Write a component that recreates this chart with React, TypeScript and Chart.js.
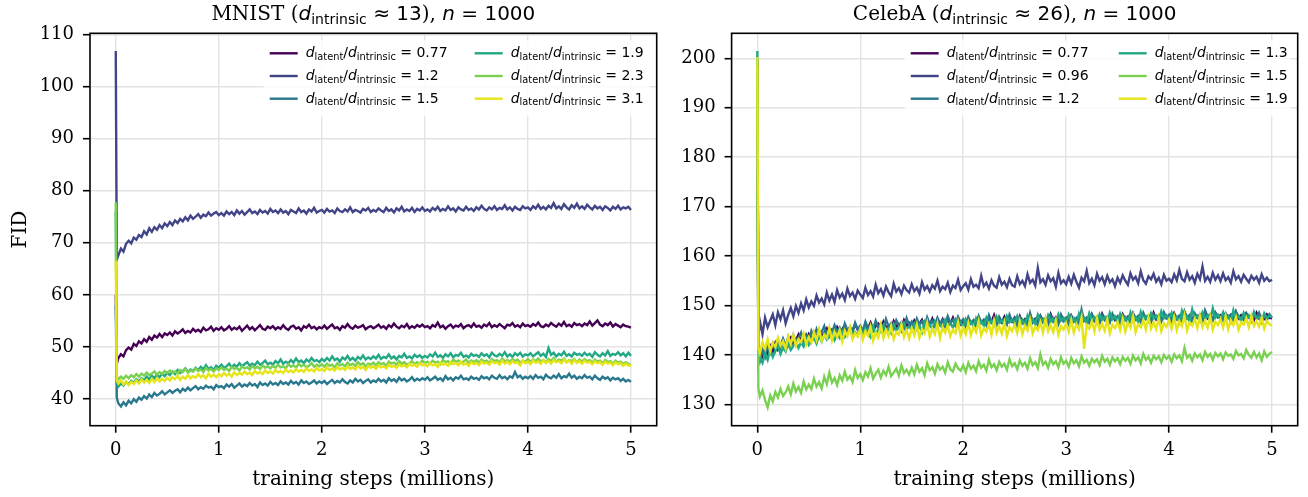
import React, { useEffect, useRef } from "react";
import { Chart, registerables } from "chart.js";

Chart.register(...registerables);

// training steps (millions)
const steps = [
  0, 0.01,
  0.025, 0.05, 0.075, 0.1, 0.125, 0.15, 0.175, 0.2, 0.225, 0.25, 0.275, 0.3, 0.325, 0.35, 0.375, 0.4, 0.425, 0.45, 0.475, 0.5,
  0.525, 0.55, 0.575, 0.6, 0.625, 0.65, 0.675, 0.7, 0.725, 0.75, 0.775, 0.8, 0.825, 0.85, 0.875, 0.9, 0.925, 0.95, 0.975, 1.0,
  1.025, 1.05, 1.075, 1.1, 1.125, 1.15, 1.175, 1.2, 1.225, 1.25, 1.275, 1.3, 1.325, 1.35, 1.375, 1.4, 1.425, 1.45, 1.475, 1.5,
  1.525, 1.55, 1.575, 1.6, 1.625, 1.65, 1.675, 1.7, 1.725, 1.75, 1.775, 1.8, 1.825, 1.85, 1.875, 1.9, 1.925, 1.95, 1.975, 2.0,
  2.025, 2.05, 2.075, 2.1, 2.125, 2.15, 2.175, 2.2, 2.225, 2.25, 2.275, 2.3, 2.325, 2.35, 2.375, 2.4, 2.425, 2.45, 2.475, 2.5,
  2.525, 2.55, 2.575, 2.6, 2.625, 2.65, 2.675, 2.7, 2.725, 2.75, 2.775, 2.8, 2.825, 2.85, 2.875, 2.9, 2.925, 2.95, 2.975, 3.0,
  3.025, 3.05, 3.075, 3.1, 3.125, 3.15, 3.175, 3.2, 3.225, 3.25, 3.275, 3.3, 3.325, 3.35, 3.375, 3.4, 3.425, 3.45, 3.475, 3.5,
  3.525, 3.55, 3.575, 3.6, 3.625, 3.65, 3.675, 3.7, 3.725, 3.75, 3.775, 3.8, 3.825, 3.85, 3.875, 3.9, 3.925, 3.95, 3.975, 4.0,
  4.025, 4.05, 4.075, 4.1, 4.125, 4.15, 4.175, 4.2, 4.225, 4.25, 4.275, 4.3, 4.325, 4.35, 4.375, 4.4, 4.425, 4.45, 4.475, 4.5,
  4.525, 4.55, 4.575, 4.6, 4.625, 4.65, 4.675, 4.7, 4.725, 4.75, 4.775, 4.8, 4.825, 4.85, 4.875, 4.9, 4.925, 4.95, 4.975, 5.0,
];

const xTicks = [0, 1, 2, 3, 4, 5];
const mnistYTicks = [40, 50, 60, 70, 80, 90, 100, 110];
const celebaYTicks = [130, 140, 150, 160, 170, 180, 190, 200];

const mnistRatios = ["0.77", "1.2", "1.5", "1.9", "2.3", "3.1"];
const celebaRatios = ["0.77", "0.96", "1.2", "1.3", "1.5", "1.9"];

// MNIST FID curves
const mnist077 = [
  60.0, 46.8,
  47.9, 48.6, 48.2, 49.4, 49.9, 49.5, 50.6, 50.2, 51.1, 50.7, 51.5, 51.0, 51.9, 51.4, 52.2, 51.8, 52.5, 51.9, 52.6, 52.3,
  52.8, 52.2, 53.0, 52.6, 52.9, 53.4, 52.7, 53.1, 52.8, 53.5, 53.0, 53.3, 52.9, 53.7, 53.2, 53.4, 53.9, 53.1, 53.6, 53.3,
  53.8, 53.2, 53.5, 54.0, 53.3, 53.7, 53.4, 53.9, 53.1, 53.6, 54.1, 53.4, 53.8, 53.2, 53.7, 54.2, 53.5, 53.3, 53.9, 53.6,
  54.0, 53.4, 53.8, 53.5, 54.2, 53.6, 53.3, 53.9, 54.1, 53.5, 53.8, 53.2, 54.0, 53.7, 54.3, 53.6, 53.9, 53.4, 53.8, 53.6,
  54.1, 53.5, 53.9, 54.3, 53.6, 53.8, 53.3, 54.0, 53.7, 54.4, 53.8, 53.5, 54.1, 53.7, 53.9, 54.2, 53.4, 53.8, 54.0, 53.6,
  53.9, 54.3, 53.7, 54.0, 53.5, 54.2, 53.8, 54.5, 53.9, 53.6, 54.1, 53.8, 54.4, 53.6, 54.0, 53.7, 54.2, 53.9, 54.3, 53.8,
  54.0, 53.6, 54.2, 53.9, 54.7, 53.8, 54.1, 53.5, 54.0, 54.3, 53.7, 54.1, 53.9, 54.4, 53.6, 54.0, 54.2, 53.8, 54.5, 53.9,
  54.1, 53.7, 54.3, 54.0, 54.6, 53.8, 54.2, 53.9, 54.4, 54.0, 53.6, 54.3, 54.1, 54.6, 53.9, 54.2, 53.8, 54.5, 54.0, 54.2,
  53.9, 54.4, 54.1, 54.7, 54.0, 53.8, 54.3, 54.0, 54.6, 54.2, 53.9, 54.5, 54.1, 54.8, 54.0, 54.3, 53.9, 54.6, 54.2, 54.4,
  54.0, 54.5, 54.2, 54.9, 54.1, 54.6, 55.1, 54.3, 54.0, 54.5, 54.2, 54.7, 53.9, 54.4, 54.1, 53.8, 54.3, 54.0, 53.9, 53.7,
];
const mnist12 = [
  106.8, 66.8,
  67.6, 68.9, 68.3, 69.8, 70.4, 69.9, 71.0, 70.6, 71.5, 71.1, 72.2, 71.6, 72.8, 72.1, 73.0, 72.5, 73.4, 72.8, 73.7, 73.2,
  74.0, 73.4, 74.3, 73.8, 74.6, 74.1, 74.9, 74.3, 75.2, 74.6, 75.0, 75.5, 74.8, 75.4, 75.1, 75.8, 75.2, 75.6, 75.9, 75.3,
  75.7, 75.2, 76.0, 75.5, 75.9, 75.3, 76.2, 75.6, 76.1, 75.4, 75.9, 76.4, 75.7, 76.0, 75.5, 76.3, 75.8, 76.1, 75.6, 76.5,
  75.9, 76.2, 75.7, 76.4, 75.8, 76.1, 75.5, 76.3, 76.0, 75.7, 76.6, 75.9, 76.2, 75.6, 76.4, 76.0, 76.7, 75.8, 76.1, 76.3,
  75.8, 76.5, 76.0, 76.2, 75.7, 76.6, 76.1, 75.9, 76.4, 76.0, 76.8, 75.9, 76.3, 76.1, 75.8, 76.5, 76.2, 76.7, 75.9, 76.3,
  76.0, 76.6, 76.2, 75.9, 76.7, 76.1, 76.4, 75.8, 76.6, 76.2, 76.9, 76.0, 76.4, 76.1, 76.7, 75.9, 76.5, 76.2, 76.8, 76.1,
  76.4, 76.0, 76.7, 76.3, 76.9, 76.1, 76.5, 76.2, 77.0, 76.3, 76.6, 76.0, 76.8, 76.4, 76.2, 76.9, 76.3, 76.6, 76.1, 76.8,
  76.4, 77.1, 76.5, 76.2, 76.8, 76.4, 77.0, 76.3, 76.7, 76.5, 77.2, 76.4, 76.8, 76.2, 76.9, 76.5, 76.3, 77.0, 76.6, 76.8,
  76.3, 77.0, 76.6, 77.3, 76.5, 76.9, 76.4, 77.1, 76.7, 77.6, 76.6, 77.0, 76.5, 77.4, 76.8, 76.4, 77.2, 76.7, 77.5, 76.6,
  77.0, 76.5, 77.3, 76.8, 76.4, 77.1, 76.6, 76.9, 76.3, 77.0, 76.7, 76.2, 76.9, 76.5, 77.1, 76.4, 76.8, 76.6, 76.9, 76.3,
];
const mnist15 = [
  58.0, 40.3,
  39.2, 38.6, 39.4, 38.8, 39.7, 39.2, 40.0, 39.5, 40.3, 39.9, 40.6, 40.1, 40.9, 40.4, 41.2, 40.7, 41.0, 41.5, 40.9, 41.3,
  41.7, 41.2, 41.6, 41.9, 41.3, 42.0, 41.6, 42.2, 41.7, 42.1, 42.5, 41.9, 42.3, 42.0, 42.6, 42.2, 42.4, 41.9, 42.7, 42.3,
  42.5, 42.1, 42.8, 42.4, 42.9, 42.2, 42.6, 43.0, 42.4, 42.8, 42.5, 43.1, 42.6, 42.9, 42.3, 43.2, 42.7, 43.0, 42.6, 43.3,
  42.8, 43.1, 42.7, 43.4, 42.9, 43.2, 42.8, 43.5, 43.0, 43.3, 42.8, 43.6, 43.1, 43.4, 42.9, 43.2, 43.6, 43.0, 43.4, 43.1,
  43.5, 42.9, 43.3, 43.7, 43.1, 43.5, 43.2, 43.8, 43.3, 43.0, 43.6, 43.2, 43.9, 43.4, 43.7, 43.1, 43.5, 43.8, 43.2, 43.6,
  43.3, 43.9, 43.4, 43.7, 43.2, 44.0, 43.5, 43.8, 43.3, 44.1, 43.6, 43.9, 43.4, 43.7, 44.2, 43.5, 43.9, 43.6, 44.0, 43.7,
  44.2, 43.6, 43.9, 44.3, 43.7, 44.0, 43.5, 44.4, 43.8, 44.1, 43.6, 44.2, 43.9, 44.5, 43.8, 44.0, 43.7, 44.3, 43.9, 44.1,
  43.7, 44.4, 44.0, 44.2, 43.8, 44.5, 44.1, 43.9, 44.6, 44.0, 44.3, 43.8, 44.4, 44.1, 45.2, 44.2, 44.5, 43.9, 44.3, 44.0,
  44.4, 43.9, 44.6, 44.1, 44.3, 43.8, 44.7, 44.2, 44.0, 44.5, 44.1, 44.8, 44.0, 44.4, 44.2, 44.9, 44.1, 44.5, 43.9, 44.3,
  44.0, 44.6, 44.1, 44.3, 43.8, 44.5, 44.0, 43.7, 44.3, 43.9, 44.2, 43.6, 44.1, 43.8, 44.0, 43.5, 43.9, 43.4, 43.7, 43.3,
];
const mnist19 = [
  76.0, 43.3,
  42.4, 43.0, 42.6, 43.3, 42.9, 43.5, 43.1, 43.8, 43.4, 44.0, 43.6, 44.3, 43.8, 44.5, 44.0, 44.7, 44.2, 44.9, 44.4, 45.1,
  44.6, 45.3, 44.8, 45.6, 45.0, 45.4, 45.9, 45.2, 45.7, 45.4, 46.0, 45.5, 46.2, 45.7, 46.5, 45.8, 46.1, 45.6, 46.4, 46.0,
  46.6, 46.0, 46.3, 46.8, 46.1, 46.6, 46.2, 46.9, 46.3, 46.7, 47.1, 46.4, 46.8, 46.5, 47.2, 46.6, 46.9, 47.4, 46.7, 47.0,
  46.6, 47.3, 46.9, 47.6, 46.8, 47.2, 46.9, 47.5, 47.0, 47.8, 47.1, 47.4, 46.9, 47.6, 47.2, 47.9, 47.3, 47.5, 47.1, 47.7,
  47.3, 47.9, 47.4, 48.2, 47.5, 47.8, 47.2, 48.0, 47.6, 48.3, 47.5, 47.9, 47.4, 48.1, 47.7, 48.4, 47.6, 48.0, 47.7, 48.2,
  47.8, 48.5, 47.7, 48.1, 47.9, 48.6, 47.8, 48.2, 47.6, 48.3, 48.0, 48.7, 47.9, 48.2, 47.8, 48.5, 48.1, 48.4, 47.9, 48.3,
  48.0, 48.6, 48.2, 48.9, 48.1, 48.4, 47.9, 48.6, 48.2, 48.8, 48.0, 48.5, 48.3, 48.9, 48.1, 48.4, 48.0, 48.7, 48.3, 48.5,
  48.1, 48.8, 48.3, 48.6, 48.0, 48.9, 48.4, 48.2, 48.7, 48.3, 49.0, 48.2, 48.6, 48.1, 48.8, 48.4, 48.9, 48.2, 48.6, 48.4,
  48.8, 48.2, 48.6, 49.0, 48.3, 48.7, 48.1, 49.8, 48.5, 48.9, 48.2, 48.7, 48.4, 49.1, 48.3, 48.6, 48.2, 48.9, 48.5, 48.7,
  48.3, 48.9, 48.4, 48.7, 48.1, 49.0, 48.5, 48.2, 48.8, 48.4, 49.2, 48.3, 48.7, 48.5, 49.0, 48.4, 48.8, 48.2, 48.9, 48.3,
];
const mnist23 = [
  77.8, 44.4,
  43.8, 44.3, 43.9, 44.5, 44.0, 44.6, 44.2, 44.8, 44.3, 44.9, 44.5, 45.1, 44.6, 44.9, 45.3, 44.7, 45.2, 44.8, 45.4, 45.0,
  45.5, 45.0, 45.3, 44.9, 45.6, 45.2, 45.8, 45.1, 45.5, 45.3, 45.9, 45.4, 45.7, 45.2, 46.0, 45.5, 45.8, 45.3, 45.9, 45.6,
  46.1, 45.6, 45.9, 45.4, 46.2, 45.8, 46.0, 45.5, 46.3, 45.9, 46.1, 45.7, 46.4, 45.9, 46.2, 45.8, 46.5, 46.0, 46.3, 45.9,
  46.4, 46.0, 46.6, 46.1, 46.3, 45.9, 46.7, 46.2, 46.5, 46.0, 46.8, 46.3, 46.6, 46.1, 46.4, 46.9, 46.2, 46.6, 46.3, 46.7,
  46.2, 46.8, 46.4, 46.6, 46.1, 46.9, 46.5, 46.7, 46.3, 47.0, 46.5, 46.8, 46.4, 47.1, 46.6, 46.9, 46.3, 46.8, 46.6, 47.0,
  46.5, 47.1, 46.7, 46.9, 46.4, 47.2, 46.8, 47.0, 46.6, 47.3, 46.8, 47.1, 46.6, 46.9, 47.3, 46.7, 47.1, 46.8, 47.4, 46.9,
  47.2, 46.8, 47.4, 47.0, 47.2, 46.7, 47.5, 47.1, 47.3, 46.8, 47.6, 47.1, 47.4, 46.9, 47.2, 47.6, 47.0, 47.4, 47.1, 47.5,
  47.0, 47.6, 47.2, 47.4, 46.9, 47.7, 47.3, 47.5, 47.0, 47.8, 47.2, 47.5, 47.1, 47.7, 47.3, 47.6, 47.0, 47.4, 47.2, 47.7,
  47.1, 47.6, 47.3, 47.8, 47.2, 47.5, 47.0, 47.7, 47.3, 47.9, 47.2, 47.6, 47.4, 47.8, 47.1, 47.5, 47.3, 47.7, 47.0, 47.6,
  47.2, 47.7, 47.3, 47.5, 47.0, 47.6, 47.2, 47.4, 46.9, 47.5, 47.1, 47.3, 46.8, 47.4, 47.0, 47.2, 46.7, 47.1, 46.8, 46.5,
];
const mnist31 = [
  66.6, 43.6,
  43.0, 43.6, 42.8, 43.4, 42.7, 43.3, 42.9, 43.6, 43.0, 43.8, 43.2, 43.7, 43.1, 43.9, 43.3, 44.0, 43.4, 43.9, 43.5, 44.1,
  43.6, 44.2, 43.8, 44.5, 43.7, 44.3, 43.9, 44.6, 44.0, 44.4, 44.1, 44.8, 44.2, 44.6, 44.0, 44.9, 44.3, 44.7, 44.2, 44.8,
  44.4, 45.0, 44.5, 44.9, 44.3, 45.2, 44.6, 45.0, 44.7, 45.3, 44.8, 45.1, 44.6, 45.4, 44.9, 45.2, 44.8, 45.5, 45.0, 45.3,
  44.9, 45.6, 45.1, 45.4, 45.0, 45.7, 45.2, 45.5, 45.1, 45.8, 45.3, 45.6, 45.2, 45.9, 45.4, 45.7, 45.3, 46.0, 45.5, 45.8,
  45.4, 46.1, 45.6, 45.9, 45.5, 46.2, 45.7, 46.0, 45.6, 46.3, 45.8, 46.1, 45.7, 46.4, 45.9, 46.2, 45.6, 46.4, 46.0, 46.3,
  45.8, 46.5, 46.1, 46.3, 45.9, 46.6, 46.2, 46.4, 46.0, 46.7, 46.3, 46.5, 46.1, 46.8, 46.4, 46.6, 46.2, 46.9, 46.5, 46.7,
  46.3, 46.9, 46.5, 46.7, 46.2, 47.0, 46.6, 46.8, 46.4, 47.1, 46.7, 46.9, 46.5, 47.2, 46.6, 46.9, 46.4, 47.1, 46.7, 47.0,
  46.5, 47.2, 46.8, 47.0, 46.6, 47.3, 46.9, 47.1, 46.6, 47.4, 46.8, 47.2, 46.7, 47.3, 46.9, 47.1, 46.5, 47.4, 46.9, 47.2,
  46.7, 47.4, 47.0, 47.2, 46.8, 47.5, 47.0, 47.3, 46.8, 47.5, 47.1, 47.3, 46.9, 47.6, 47.1, 47.4, 46.8, 47.5, 47.0, 47.3,
  46.8, 47.4, 47.0, 47.2, 46.7, 47.3, 46.9, 47.1, 46.6, 47.2, 46.8, 47.0, 46.5, 47.1, 46.7, 46.9, 46.4, 46.8, 46.5, 46.4,
];

// CelebA FID curves
const celeba077 = [
  199.0, 139.0,
  140.5, 139.6, 141.3, 140.2, 141.8, 140.7, 142.4, 141.1, 142.0, 143.1, 141.6, 142.7, 143.5, 142.2, 143.0, 144.1, 142.6, 143.6, 142.9, 144.2,
  143.3, 144.6, 143.5, 144.9, 143.8, 144.4, 145.3, 143.9, 145.0, 144.3, 145.6, 144.5, 145.2, 146.0, 144.6, 145.4, 144.9, 146.2, 145.1, 145.7,
  144.8, 146.1, 145.4, 146.5, 145.0, 145.8, 146.3, 145.2, 146.7, 145.5, 146.0, 145.3, 146.8, 145.7, 146.2, 145.4, 147.0, 145.9, 146.4, 145.6,
  146.9, 145.8, 146.3, 147.1, 145.7, 146.5, 146.0, 147.3, 145.9, 146.6, 146.1, 147.2, 145.8, 146.7, 146.3, 147.5, 146.0, 146.8, 146.2, 147.0,
  146.1, 147.4, 146.4, 146.9, 146.0, 147.6, 146.5, 147.0, 146.2, 147.3, 146.6, 148.0, 146.3, 146.9, 146.5, 147.7, 146.4, 147.1, 146.7, 147.5,
  146.4, 147.8, 146.6, 147.2, 146.5, 148.1, 146.8, 147.3, 146.6, 147.9, 146.9, 147.4, 146.5, 148.2, 146.9, 147.6, 146.7, 148.0, 147.0, 147.5,
  146.6, 147.9, 146.8, 147.4, 146.5, 147.9, 147.0, 147.5, 146.7, 148.2, 146.9, 147.6, 146.6, 148.3, 147.1, 147.7, 146.8, 148.0, 147.0, 147.4,
  146.8, 148.2, 147.1, 147.7, 146.7, 148.4, 147.2, 147.8, 146.9, 148.1, 147.3, 147.9, 146.8, 148.5, 147.2, 147.7, 147.0, 148.3, 147.4, 147.8,
  147.0, 148.4, 147.3, 147.9, 146.9, 148.6, 147.4, 148.0, 147.1, 148.2, 147.5, 148.1, 147.0, 148.7, 147.4, 147.9, 147.2, 148.5, 147.6, 148.0,
  147.1, 148.3, 147.5, 148.1, 147.0, 148.7, 147.4, 148.0, 147.2, 148.4, 147.6, 147.9, 147.1, 148.5, 147.4, 147.8, 147.3, 148.2, 147.5, 147.4,
];
const celeba096 = [
  199.5, 144.0,
  146.8, 144.2, 147.5, 145.6, 146.9, 148.2, 146.0, 148.6, 147.2, 149.0, 146.4, 148.1, 149.5, 147.8, 149.9, 148.5, 150.4, 149.0, 151.2, 149.6,
  150.8, 149.9, 152.0, 150.6, 151.4, 150.2, 152.6, 151.0, 152.2, 150.7, 153.1, 151.6, 152.4, 151.1, 153.4, 151.9, 152.6, 151.3, 153.0, 152.2,
  151.5, 153.6, 152.1, 152.9, 151.8, 154.2, 152.5, 153.3, 152.0, 153.8, 152.7, 151.9, 154.4, 152.8, 153.5, 152.3, 154.0, 153.1, 152.6, 154.3,
  152.9, 153.6, 152.4, 154.7, 153.2, 153.9, 152.8, 154.1, 153.4, 155.0, 152.9, 153.8, 153.3, 154.6, 152.7, 154.0, 153.5, 155.2, 153.1, 153.9,
  154.5, 153.2, 155.3, 153.8, 154.2, 153.5, 156.0, 153.9, 154.6, 153.4, 155.1, 154.0, 153.6, 155.7, 154.2, 154.8, 153.7, 155.4, 154.1, 153.8,
  155.9, 154.3, 155.0, 153.9, 156.3, 154.6, 155.2, 154.0, 157.6, 154.7, 155.3, 154.2, 156.1, 154.9, 155.5, 153.8, 156.6, 154.5, 155.1, 154.3,
  155.8, 154.4, 156.2, 154.8, 153.6, 155.6, 154.9, 157.0, 154.5, 155.4, 154.1, 156.4, 155.0, 155.7, 154.3, 156.0, 154.7, 155.3, 153.9, 155.6,
  154.6, 156.1, 155.0, 154.2, 156.5, 155.2, 155.8, 154.5, 156.9, 155.1, 154.4, 155.9, 155.3, 156.4, 154.8, 155.6, 154.3, 156.2, 155.0, 155.4,
  154.7, 156.3, 155.1, 157.2, 155.4, 154.9, 156.7, 155.2, 155.9, 154.6, 156.4, 155.3, 157.9, 155.0, 155.8, 154.8, 156.6, 155.2, 156.1, 154.9,
  156.5, 155.1, 155.7, 154.6, 156.9, 155.3, 155.9, 154.8, 156.2, 155.4, 154.7, 156.0, 155.2, 155.8, 154.6, 156.3, 155.0, 155.6, 154.9, 155.2,
];
const celeba12 = [
  199.8, 140.0,
  138.8, 141.0, 139.6, 141.9, 140.5, 142.3, 140.9, 142.8, 141.5, 143.2, 141.8, 143.6, 142.1, 144.0, 142.5, 143.4, 144.5, 142.7, 144.1, 143.0,
  144.8, 143.4, 145.2, 143.7, 144.6, 145.8, 143.9, 145.3, 144.4, 146.0, 144.7, 145.5, 144.2, 146.3, 145.0, 145.7, 144.6, 146.5, 145.2, 145.9,
  144.8, 146.7, 145.4, 146.1, 145.0, 146.9, 145.6, 146.3, 145.1, 147.2, 145.7, 146.4, 145.3, 147.0, 145.9, 146.6, 145.4, 147.4, 146.0, 146.7,
  145.5, 147.3, 146.1, 146.8, 145.7, 147.6, 146.2, 146.9, 145.8, 147.5, 146.4, 147.0, 145.9, 147.8, 146.5, 147.1, 146.0, 147.7, 146.6, 147.2,
  145.8, 147.6, 146.4, 147.0, 145.9, 147.8, 146.5, 147.1, 146.0, 148.0, 146.6, 147.2, 146.1, 147.7, 146.7, 147.3, 146.2, 148.1, 146.8, 147.4,
  145.8, 147.5, 146.4, 147.0, 145.9, 148.4, 146.5, 147.1, 146.0, 147.8, 146.6, 147.2, 146.1, 147.9, 146.7, 147.3, 146.2, 148.1, 146.8, 147.4,
  146.1, 147.9, 146.8, 147.4, 146.3, 149.1, 146.9, 147.5, 146.4, 148.1, 147.0, 147.6, 146.5, 148.0, 147.1, 147.7, 146.6, 148.3, 147.2, 147.8,
  146.4, 148.0, 147.1, 147.7, 146.5, 148.3, 147.2, 147.8, 146.6, 148.5, 147.3, 147.9, 146.7, 148.2, 147.4, 148.0, 146.8, 148.6, 147.5, 148.1,
  146.6, 148.2, 147.4, 147.9, 146.7, 148.8, 147.5, 148.0, 146.8, 148.4, 147.6, 148.1, 146.9, 149.0, 147.7, 148.2, 147.0, 148.5, 147.8, 147.9,
  147.0, 148.4, 147.7, 148.1, 147.1, 148.7, 147.8, 147.5, 147.2, 148.3, 147.6, 146.9, 148.0, 147.4, 148.5, 147.1, 147.8, 147.0, 148.2, 147.5,
];
const celeba13 = [
  201.5, 138.2,
  139.5, 138.4, 140.3, 139.0, 141.1, 139.6, 140.8, 141.9, 140.2, 141.5, 140.7, 142.3, 141.0, 141.8, 142.9, 141.4, 142.5, 141.7, 143.2, 142.0,
  142.8, 143.6, 142.3, 143.9, 142.7, 144.2, 143.1, 143.7, 144.5, 143.0, 144.1, 143.4, 144.8, 143.6, 144.3, 145.2, 143.8, 144.6, 144.0, 145.0,
  144.2, 145.4, 144.5, 143.6, 145.7, 144.3, 145.1, 144.6, 146.0, 144.7, 145.3, 144.4, 146.2, 145.0, 145.6, 144.8, 146.4, 145.2, 145.8, 145.0,
  146.3, 145.1, 145.9, 144.6, 146.6, 145.4, 146.1, 145.2, 146.8, 145.6, 146.2, 145.3, 147.0, 145.8, 146.4, 145.5, 147.1, 146.0, 146.5, 145.7,
  147.2, 146.1, 146.7, 145.8, 147.4, 146.2, 146.8, 145.9, 147.5, 146.3, 146.9, 146.0, 147.7, 146.5, 147.0, 146.1, 147.8, 146.6, 147.1, 146.3,
  147.8, 146.4, 147.1, 146.0, 147.9, 146.6, 147.2, 146.2, 148.1, 146.7, 147.3, 146.3, 148.0, 146.8, 147.4, 146.1, 148.2, 146.9, 147.5, 146.5,
  148.1, 146.6, 147.4, 146.3, 148.3, 146.9, 147.5, 146.4, 148.4, 147.0, 147.6, 146.5, 148.2, 147.1, 147.7, 146.6, 148.5, 147.2, 147.8, 146.7,
  148.3, 146.9, 147.6, 146.5, 148.6, 147.1, 147.7, 146.6, 148.7, 147.2, 147.8, 146.8, 148.4, 147.3, 147.9, 146.9, 148.8, 147.4, 148.0, 147.0,
  148.5, 147.0, 147.7, 146.6, 148.9, 147.2, 147.8, 146.7, 149.2, 147.3, 147.9, 146.9, 148.6, 147.4, 148.0, 147.0, 149.4, 147.5, 148.1, 147.1,
  148.6, 147.1, 147.8, 146.7, 149.0, 147.2, 147.9, 146.8, 148.5, 147.3, 148.0, 146.9, 148.7, 147.4, 147.6, 146.6, 148.4, 147.5, 147.9, 147.6,
];
const celeba15 = [
  198.5, 133.2,
  131.6, 132.8, 130.9, 129.4, 131.8, 130.6, 132.5, 131.4, 133.1, 131.7, 132.4, 133.6, 132.0, 134.2, 132.6, 133.5, 132.3, 134.6, 133.0, 134.0,
  133.1, 135.2, 133.6, 134.5, 133.2, 135.6, 134.1, 136.4, 134.4, 135.3, 133.9, 135.9, 134.8, 136.6, 135.0, 135.7, 134.5, 136.9, 135.3, 136.1,
  134.9, 136.5, 135.6, 137.3, 135.2, 136.2, 137.0, 135.4, 136.8, 135.9, 137.6, 135.7, 136.4, 137.2, 135.8, 137.9, 136.3, 137.0, 136.0, 137.4,
  136.1, 138.0, 136.6, 137.3, 135.9, 138.3, 136.9, 137.5, 136.2, 138.1, 137.0, 137.6, 136.4, 138.5, 137.1, 136.6, 138.2, 137.3, 136.8, 137.9,
  136.5, 138.4, 137.2, 137.8, 136.7, 138.7, 137.4, 138.0, 136.8, 139.0, 137.5, 138.1, 136.9, 138.6, 137.6, 138.2, 137.0, 139.1, 137.7, 138.3,
  137.1, 138.9, 137.8, 138.4, 137.2, 139.3, 137.9, 138.5, 137.3, 140.1, 138.0, 138.6, 137.4, 139.2, 138.1, 138.7, 137.5, 139.5, 138.2, 138.8,
  137.6, 139.4, 138.3, 138.9, 137.7, 139.7, 138.4, 139.0, 137.8, 139.2, 138.5, 139.1, 137.9, 139.8, 138.6, 139.2, 138.0, 139.5, 138.7, 139.3,
  138.1, 139.6, 138.8, 139.4, 138.2, 139.9, 138.9, 139.5, 138.3, 140.2, 139.0, 139.6, 138.4, 139.8, 139.1, 139.7, 138.5, 140.0, 139.2, 139.8,
  138.6, 140.1, 139.3, 139.9, 138.7, 141.4, 139.4, 140.0, 138.8, 140.3, 139.5, 140.1, 138.9, 140.6, 139.6, 140.2, 139.0, 140.4, 139.7, 140.3,
  139.1, 140.5, 139.8, 140.1, 139.2, 140.8, 139.9, 140.2, 139.3, 141.0, 140.0, 139.4, 140.6, 139.5, 140.3, 138.9, 140.7, 139.6, 140.2, 140.6,
];
const celeba19 = [
  200.2, 141.5,
  140.4, 142.6, 141.2, 143.1, 140.8, 142.4, 141.6, 143.5, 141.9, 142.8, 141.3, 143.7, 142.2, 144.0, 141.8, 143.2, 142.6, 144.3, 142.1, 143.6,
  142.5, 144.6, 143.0, 145.2, 142.8, 144.1, 143.4, 145.5, 142.9, 144.7, 143.6, 145.0, 142.7, 144.9, 143.8, 145.6, 143.2, 144.4, 143.7, 145.3,
  143.1, 144.8, 143.9, 145.7, 142.9, 144.5, 143.5, 146.0, 143.4, 145.1, 143.8, 145.9, 143.2, 144.6, 144.1, 146.2, 143.6, 145.0, 143.3, 145.4,
  144.0, 146.1, 143.5, 145.2, 144.3, 146.5, 143.7, 145.3, 144.2, 146.3, 143.4, 145.6, 144.5, 146.0, 143.8, 145.1, 144.4, 146.6, 143.9, 145.5,
  144.2, 146.4, 144.0, 145.7, 144.6, 146.8, 143.9, 145.4, 144.7, 146.2, 144.1, 146.9, 144.5, 145.8, 144.3, 146.5, 143.8, 145.6, 144.8, 146.1,
  144.4, 146.7, 144.2, 145.9, 144.9, 147.1, 144.3, 145.7, 145.0, 146.6, 144.5, 147.3, 144.8, 146.0, 144.6, 146.9, 144.1, 145.8, 145.1, 146.4,
  144.7, 147.0, 144.5, 146.2, 145.2, 147.5, 141.2, 146.0, 145.3, 146.8, 144.8, 147.4, 145.1, 146.3, 144.9, 147.2, 144.4, 146.1, 145.4, 146.7,
  145.0, 147.3, 144.7, 146.5, 145.5, 147.8, 144.6, 146.2, 145.6, 147.0, 145.1, 147.6, 145.3, 146.6, 145.2, 147.5, 144.8, 146.4, 145.7, 147.1,
  145.3, 147.6, 145.0, 146.8, 145.8, 148.0, 144.9, 146.5, 145.9, 147.3, 145.4, 147.9, 145.6, 146.9, 145.5, 147.7, 145.1, 146.7, 146.0, 147.2,
  145.5, 147.8, 145.2, 147.0, 146.0, 147.6, 145.1, 146.6, 146.1, 147.4, 145.6, 147.9, 145.8, 146.8, 145.7, 147.5, 145.3, 146.9, 146.2, 145.9,
];

const lineColors = ["#440154", "#414487", "#2a788e", "#22a884", "#7ad151", "#e5e419"];

const SERIF = '"DejaVu Serif", serif';
const SANS = '"DejaVu Sans", sans-serif';

type Seg = { t: string; font: string; dy?: number };

function segsWidth(ctx: CanvasRenderingContext2D, segs: Seg[]) {
  let w = 0;
  for (const s of segs) {
    ctx.font = s.font;
    w += ctx.measureText(s.t).width;
  }
  return w;
}

function drawSegs(ctx: CanvasRenderingContext2D, segs: Seg[], x: number, y: number) {
  let cx = x;
  for (const s of segs) {
    ctx.font = s.font;
    ctx.fillText(s.t, cx, y + (s.dy || 0));
    cx += ctx.measureText(s.t).width;
  }
}

type PanelDef = {
  left: number;
  width: number;
  yAxisWidth: number;
  padRight: number;
  yMin: number;
  yMax: number;
  yTicks: number[];
  series: number[][];
  ratios: string[];
  name: string;
  dim: string;
  yLabel: string;
  legendCols: number[];
};

const mnistPanel: PanelDef = {
  left: 0,
  width: 660,
  yAxisWidth: 90,
  padRight: 3.3,
  yMin: 34.9,
  yMax: 110.2,
  yTicks: mnistYTicks,
  series: [mnist077, mnist12, mnist15, mnist19, mnist23, mnist31],
  ratios: mnistRatios,
  name: "MNIST",
  dim: "13",
  yLabel: "FID",
  legendCols: [-387, -182],
};

const celebaPanel: PanelDef = {
  left: 660,
  width: 648,
  yAxisWidth: 71.6,
  padRight: 10.3,
  yMin: 125.67,
  yMax: 205.06,
  yTicks: celebaYTicks,
  series: [celeba077, celeba096, celeba12, celeba13, celeba15, celeba19],
  ratios: celebaRatios,
  name: "CelebA",
  dim: "26",
  yLabel: "",
  legendCols: [-387, -179],
};

function makeDecorPlugin(p: PanelDef) {
  return {
    id: "decor",
    afterDatasetsDraw(chart: any) {
      const ctx: CanvasRenderingContext2D = chart.ctx;
      const a = chart.chartArea;
      ctx.save();
      // legend background
      const bx = a.right + p.legendCols[0] - 6;
      ctx.fillStyle = "rgba(255,255,255,0.8)";
      ctx.fillRect(bx, a.top + 7, a.right - 7 - bx, 76);
      // legend entries
      const rows = [20, 42.7, 65.4];
      p.ratios.forEach((r, i) => {
        const col = Math.floor(i / 3);
        const row = i % 3;
        const x0 = a.right + p.legendCols[col];
        const y0 = a.top + rows[row];
        ctx.strokeStyle = lineColors[i];
        ctx.lineWidth = 2.4;
        ctx.beginPath();
        ctx.moveTo(x0, y0);
        ctx.lineTo(x0 + 28, y0);
        ctx.stroke();
        ctx.fillStyle = "#000";
        ctx.textBaseline = "alphabetic";
        ctx.textAlign = "left";
        const segs: Seg[] = [
          { t: "d", font: `italic 14px ${SANS}` },
          { t: "latent", font: `9.8px ${SANS}`, dy: 2.8 },
          { t: "/", font: `14px ${SANS}` },
          { t: "d", font: `italic 14px ${SANS}` },
          { t: "intrinsic", font: `9.8px ${SANS}`, dy: 2.8 },
          { t: " = " + r, font: `14px ${SANS}` },
        ];
        drawSegs(ctx, segs, x0 + 36, y0 + 3.8);
      });
      // frame
      ctx.strokeStyle = "#000";
      ctx.lineWidth = 1.6;
      ctx.strokeRect(a.left, a.top, a.right - a.left, a.bottom - a.top);
      ctx.restore();
    },
    afterDraw(chart: any) {
      const ctx: CanvasRenderingContext2D = chart.ctx;
      const a = chart.chartArea;
      const cx = (a.left + a.right) / 2;
      ctx.save();
      ctx.fillStyle = "#000";
      ctx.textBaseline = "alphabetic";
      ctx.textAlign = "left";
      // title
      const title: Seg[] = [
        { t: p.name + " (", font: `20px ${SERIF}` },
        { t: "d", font: `italic 20px ${SANS}` },
        { t: "intrinsic", font: `14px ${SANS}`, dy: 4 },
        { t: " \u2248 " + p.dim, font: `20px ${SANS}` },
        { t: "), ", font: `20px ${SERIF}` },
        { t: "n", font: `italic 20px ${SANS}` },
        { t: " = 1000", font: `20px ${SANS}` },
      ];
      const tw = segsWidth(ctx, title);
      drawSegs(ctx, title, cx - tw / 2, 20);
      // x label
      ctx.font = `20px ${SERIF}`;
      ctx.textAlign = "center";
      ctx.fillText("training steps (millions)", cx, 485);
      // y label
      if (p.yLabel) {
        ctx.translate(26, (a.top + a.bottom) / 2);
        ctx.rotate(-Math.PI / 2);
        ctx.fillText(p.yLabel, 0, 0);
      }
      ctx.restore();
    },
  };
}

function PanelChart({ panel }: { panel: PanelDef }) {
  const ref = useRef<HTMLCanvasElement>(null);
  useEffect(() => {
    const canvas = ref.current;
    if (!canvas) return;
    const n = panel.series.length;
    const datasets = panel.series.map((vals, i) => ({
      label: panel.ratios[i],
      data: steps.map((x, j) => ({ x, y: vals[j] })),
      borderColor: lineColors[i],
      backgroundColor: lineColors[i],
      borderWidth: 2.4,
      pointRadius: 0,
      tension: 0,
      fill: false,
      order: n - 1 - i,
    }));
    const tickFont = { family: "DejaVu Serif", size: 18 };
    const chart = new Chart(canvas, {
      type: "line",
      data: { datasets },
      options: {
        animation: false,
        responsive: false,
        devicePixelRatio: 1,
        events: [],
        layout: { padding: { left: 0, right: panel.padRight, top: 33.3, bottom: 0 } },
        plugins: {
          legend: { display: false },
          tooltip: { enabled: false },
          title: { display: false },
        },
        scales: {
          x: {
            type: "linear",
            min: -0.25,
            max: 5.25,
            afterBuildTicks: (s: any) => {
              s.ticks = xTicks.map((v) => ({ value: v }));
            },
            afterFit: (s: any) => {
              s.height = 497 - 425.7;
            },
            grid: {
              color: "#e3e3e3",
              lineWidth: 1.4,
              tickColor: "#000",
              tickWidth: 1.6,
              tickLength: 7,
            },
            border: { display: false },
            ticks: {
              font: tickFont,
              color: "#000",
              padding: 7,
              maxRotation: 0,
              autoSkip: false,
              callback: (v: any) => String(v),
            },
          },
          y: {
            type: "linear",
            min: panel.yMin,
            max: panel.yMax,
            afterBuildTicks: (s: any) => {
              s.ticks = panel.yTicks.map((v) => ({ value: v }));
            },
            afterFit: (s: any) => {
              s.width = panel.yAxisWidth;
            },
            grid: {
              color: "#e3e3e3",
              lineWidth: 1.4,
              tickColor: "#000",
              tickWidth: 1.6,
              tickLength: 7,
            },
            border: { display: false },
            ticks: {
              font: tickFont,
              color: "#000",
              padding: 9,
              autoSkip: false,
              callback: (v: any) => String(v),
            },
          },
        },
      } as any,
      plugins: [makeDecorPlugin(panel)],
    });
    return () => chart.destroy();
  }, [panel]);
  return (
    <canvas
      ref={ref}
      width={panel.width}
      height={497}
      style={{ position: "absolute", left: panel.left, top: 0, width: panel.width, height: 497 }}
    />
  );
}

export default function App() {
  return (
    <div
      style={{
        position: "absolute",
        left: 0,
        top: 0,
        width: 1308,
        height: 497,
        background: "#fff",
        overflow: "hidden",
      }}
    >
      <PanelChart panel={mnistPanel} />
      <PanelChart panel={celebaPanel} />
    </div>
  );
}
